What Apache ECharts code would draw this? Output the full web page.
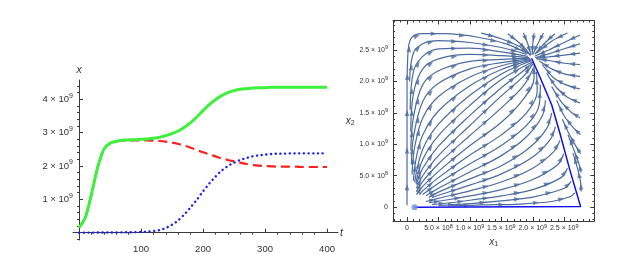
<!DOCTYPE html>
<html><head><meta charset="utf-8">
<script src="https://cdn.jsdelivr.net/npm/echarts@6/dist/echarts.min.js"></script>
<style>html,body{margin:0;padding:0;background:#fff}#c{width:644px;height:254px}</style>
</head><body><div id="c"></div>
<script>
// ---------- Left panel: populations over time (units of 1e9) ----------
const timePoints = [0,10,20,30,40,50,60,70,80,90,100,110,120,130,140,150,160,170,180,190,200,210,220,230,240,250,260,270,280,290,300,310,320,330,340,350,360,370,380,390,400];
const totalPop = [0.15,0.45,1.15,1.95,2.50,2.68,2.74,2.77,2.78,2.79,2.80,2.81,2.83,2.86,2.91,2.97,3.05,3.16,3.30,3.47,3.66,3.84,3.99,4.11,4.20,4.26,4.30,4.32,4.34,4.35,4.35,4.36,4.36,4.36,4.36,4.36,4.36,4.36,4.36,4.36,4.36];
const strain1Pop = [0.15,0.45,1.15,1.95,2.50,2.68,2.74,2.76,2.77,2.77,2.77,2.77,2.76,2.75,2.73,2.70,2.66,2.61,2.55,2.48,2.41,2.35,2.29,2.23,2.18,2.14,2.10,2.06,2.03,2.01,2.00,1.99,1.98,1.98,1.98,1.98,1.97,1.97,1.97,1.97,1.97];
const strain2Pop = [0,0.001,0.002,0.003,0.004,0.005,0.007,0.009,0.012,0.016,0.02,0.03,0.05,0.08,0.14,0.24,0.37,0.55,0.76,0.99,1.24,1.47,1.68,1.86,2.00,2.10,2.18,2.24,2.29,2.32,2.34,2.36,2.37,2.37,2.38,2.38,2.38,2.38,2.38,2.38,2.38];
const timeTicks = [100,200,300,400];
const popTicks = [1,2,3,4];
const popTickMantissa = ['1','2','3','4'];

// ---------- Right panel: phase plane (units of 1e9) ----------
const phaseTicks = [0,0.5,1.0,1.5,2.0,2.5];
const phaseTickMantissa = ['0','5.0','1.0','1.5','2.0','2.5'];
const phaseTickExponent = ['','8','9','9','9','9'];
const trajectoryX1 = [0.12,2.76,2.59,2.43,2.30,2.11,1.98];
const trajectoryX2 = [0,0.01,0.59,1.18,1.63,2.08,2.37];
const streamlines = [
  [[0,0.03],[0,0.6],[0,1.2],[0,1.8],[0.01,2.35],[0.06,2.68],[0.25,2.76],[0.6,2.76],[1.15,2.70],[1.6,2.59],[1.92,2.44]],
  [[0.04,2.0],[0.1,2.45],[0.25,2.6],[0.5,2.65],[1.0,2.62],[1.5,2.54],[1.9,2.43]],
  [[0.05,1.55],[0.1,2.15],[0.25,2.4],[0.5,2.52],[1.0,2.53],[1.5,2.47],[1.92,2.40]],
  [[0.06,1.2],[0.1,1.8],[0.25,2.2],[0.5,2.36],[1.0,2.43],[1.5,2.41],[1.94,2.38]],
  [[0.06,0.9],[0.1,1.42],[0.25,1.95],[0.5,2.17],[1.0,2.32],[1.5,2.35],[1.95,2.37]],
  [[0.07,0.68],[0.1,1.1],[0.25,1.68],[0.5,1.97],[1.0,2.2],[1.5,2.3],[1.96,2.36]],
  [[0.08,0.52],[0.12,0.95],[0.25,1.42],[0.5,1.76],[1.0,2.07],[1.5,2.25],[1.97,2.35]],
  [[0.1,0.42],[0.15,0.8],[0.25,1.15],[0.5,1.53],[1.0,1.93],[1.5,2.19],[1.97,2.34]],
  [[0.12,0.4],[0.25,0.92],[0.5,1.32],[1.0,1.78],[1.5,2.12],[1.98,2.33]],
  [[0.14,0.38],[0.25,0.76],[0.5,1.14],[1.0,1.62],[1.5,2.03],[1.99,2.31]],
  [[0.15,0.36],[0.25,0.62],[0.5,0.97],[1.0,1.46],[1.5,1.9],[1.85,2.17],[2.0,2.3]],
  [[0.15,0.3],[0.25,0.5],[0.5,0.82],[1.0,1.3],[1.5,1.77],[1.85,2.08],[2.0,2.28]],
  [[0.15,0.25],[0.25,0.41],[0.5,0.69],[1.0,1.14],[1.5,1.58],[1.85,1.93],[2.01,2.22]],
  [[0.15,0.2],[0.25,0.33],[0.5,0.57],[1.0,0.98],[1.5,1.35],[1.85,1.72],[2.02,2.05],[2.02,2.28]],
  [[0.2,0.2],[0.25,0.26],[0.5,0.47],[1.0,0.83],[1.5,1.15],[1.9,1.5],[2.07,1.85],[2.06,2.15]],
  [[0.25,0.2],[0.5,0.38],[1.0,0.69],[1.5,0.98],[1.9,1.3],[2.1,1.62],[2.12,1.95]],
  [[0.3,0.18],[0.5,0.3],[1.0,0.56],[1.5,0.82],[1.9,1.12],[2.15,1.45],[2.2,1.7]],
  [[0.35,0.16],[0.5,0.24],[1.0,0.45],[1.5,0.66],[1.95,0.95],[2.22,1.25],[2.3,1.5]],
  [[0.4,0.15],[0.5,0.19],[1.0,0.35],[1.5,0.53],[2.0,0.8],[2.28,1.08],[2.36,1.28]],
  [[0.3,0.09],[0.5,0.14],[1.0,0.26],[1.5,0.4],[2.0,0.62],[2.33,0.88],[2.43,1.06]],
  [[0.35,0.07],[0.6,0.11],[1.0,0.18],[1.5,0.28],[2.0,0.44],[2.4,0.68],[2.49,0.85]],
  [[0.4,0.045],[0.7,0.07],[1.0,0.11],[1.5,0.18],[2.0,0.28],[2.45,0.47],[2.55,0.62]],
  [[0.5,0.03],[0.9,0.05],[1.5,0.1],[2.0,0.16],[2.5,0.3],[2.61,0.41]],
  [[0.7,0.02],[1.2,0.035],[1.8,0.05],[2.3,0.09],[2.6,0.17],[2.67,0.23]],
  [[2.75,2.74],[2.5,2.62],[2.25,2.5],[2.03,2.4]],
  [[2.75,2.6],[2.5,2.52],[2.25,2.44],[2.04,2.38]],
  [[2.75,2.45],[2.5,2.42],[2.25,2.39],[2.05,2.37]],
  [[2.75,2.27],[2.5,2.29],[2.28,2.33],[2.06,2.36]],
  [[2.75,2.08],[2.5,2.12],[2.3,2.2],[2.1,2.33]],
  [[2.75,1.88],[2.52,1.95],[2.33,2.06],[2.15,2.27]],
  [[2.75,1.66],[2.55,1.75],[2.38,1.9],[2.22,2.13]],
  [[2.75,1.42],[2.6,1.52],[2.45,1.68],[2.3,1.92]],
  [[2.76,1.15],[2.64,1.27],[2.5,1.45],[2.38,1.7]],
  [[2.76,0.85],[2.68,0.98],[2.57,1.18],[2.47,1.4]],
  [[2.77,0.55],[2.73,0.7],[2.65,0.92],[2.56,1.15]],
  [[2.77,0.25],[2.76,0.4],[2.71,0.62],[2.64,0.86]],
  [[1.18,2.77],[1.5,2.68],[1.78,2.56],[1.95,2.43]],
  [[1.6,2.76],[1.78,2.62],[1.9,2.5],[1.96,2.41]],
  [[1.85,2.77],[1.92,2.6],[1.97,2.42]],
  [[2.02,2.77],[2.0,2.6],[1.99,2.43]],
  [[2.17,2.77],[2.08,2.6],[2.0,2.43]],
  [[2.35,2.76],[2.18,2.6],[2.03,2.43]],
  [[2.55,2.77],[2.3,2.64],[2.06,2.45]]
];

// ---------- styles ----------
const FONT = 'Liberation Sans';
const AX = '#3a3a3a';
const TXT = '#333';
const STREAM = '#4d6b9e';

function range(a, b, step, skip) {
  const out = [];
  for (let v = a; v <= b + 1e-9; v += step) {
    const r = Math.round(v * 1000) / 1000;
    if (!skip || !skip.some(s => Math.abs(s - r) < 1e-6)) out.push(r);
  }
  return out;
}
const timeMinor = range(20, 400, 20, timeTicks);
const popMinor = range(-0.2, 4.4, 0.2, popTicks.concat([0]));
const phaseMinor = range(-0.2, 2.9, 0.1, phaseTicks);

const leftRich = {
  m: {fontSize: 9.5, color: TXT, fontFamily: FONT, lineHeight: 14},
  e: {fontSize: 7, color: TXT, fontFamily: FONT, lineHeight: 7, verticalAlign: 'top'}
};
const rightRich = {
  m: {fontSize: 7, color: TXT, fontFamily: FONT, lineHeight: 11},
  e: {fontSize: 5.5, color: TXT, fontFamily: FONT, lineHeight: 5, verticalAlign: 'top'}
};
const nameRich = {
  i: {fontSize: 10, fontStyle: 'italic', color: TXT, fontFamily: FONT, lineHeight: 12},
  s: {fontSize: 7, color: TXT, fontFamily: FONT, lineHeight: 7, verticalAlign: 'bottom'}
};

function idxOf(arr, v) { return arr.findIndex(a => Math.abs(a - v) < 1e-6); }

function base(o) {
  return Object.assign({
    type: 'value', splitLine: {show: false},
    axisLabel: {show: false}, axisTick: {show: false}, axisLine: {show: false}
  }, o);
}

const leftX = {gridIndex: 0, min: -9.7, max: 417.7};
const leftY = {gridIndex: 0, min: -0.22, max: 4.58};
const rightX = {gridIndex: 1, min: -0.223, max: 2.978};
const rightY = {gridIndex: 1, min: -0.22, max: 2.97};

const xAxes = [
  base(Object.assign({}, leftX, {
    axisLine: {show: true, onZero: true, onZeroAxisIndex: 0, lineStyle: {color: AX, width: 1}},
    axisTick: {show: true, inside: true, length: 4, customValues: timeTicks, lineStyle: {color: AX}},
    axisLabel: {show: true, customValues: timeTicks, margin: 4, fontSize: 9.5, color: TXT, fontFamily: FONT},
    name: 't', nameLocation: 'end', nameGap: 2,
    nameTextStyle: {fontStyle: 'italic', fontSize: 10.5, color: TXT, fontFamily: FONT}
  })),
  base(Object.assign({}, leftX, {
    axisLine: {show: false, onZero: true, onZeroAxisIndex: 0},
    axisTick: {show: true, inside: true, length: 2, customValues: timeMinor, lineStyle: {color: AX}}
  })),
  base(Object.assign({}, rightX, {
    position: 'bottom',
    axisLine: {show: true, onZero: false, lineStyle: {color: AX}},
    axisTick: {show: true, inside: true, length: 4, customValues: phaseTicks, lineStyle: {color: AX}},
    axisLabel: {show: true, customValues: phaseTicks, margin: 2, rich: rightRich,
      formatter: v => { const i = idxOf(phaseTicks, v); const e = phaseTickExponent[i];
        return e ? `{m|${phaseTickMantissa[i]} × 10}{e|${e}}` : `{m|${phaseTickMantissa[i]}}`; }},
    name: '{i|x}{s|1}', nameLocation: 'middle', nameGap: 15, nameTextStyle: {rich: nameRich}
  })),
  base(Object.assign({}, rightX, {
    position: 'bottom', axisLine: {show: false, onZero: false},
    axisTick: {show: true, inside: true, length: 2, customValues: phaseMinor, lineStyle: {color: AX}}
  })),
  base(Object.assign({}, rightX, {
    position: 'top', axisLine: {show: true, onZero: false, lineStyle: {color: AX}},
    axisTick: {show: true, inside: true, length: 4, customValues: phaseTicks, lineStyle: {color: AX}}
  })),
  base(Object.assign({}, rightX, {
    position: 'top', axisLine: {show: false, onZero: false},
    axisTick: {show: true, inside: true, length: 2, customValues: phaseMinor, lineStyle: {color: AX}}
  }))
];

const yAxes = [
  base(Object.assign({}, leftY, {
    axisLine: {show: true, onZero: true, onZeroAxisIndex: 0, lineStyle: {color: AX, width: 1}},
    axisTick: {show: true, inside: true, length: 4, customValues: popTicks, lineStyle: {color: AX}},
    axisLabel: {show: true, customValues: popTicks, margin: 0, rich: leftRich,
      formatter: v => { const i = idxOf(popTicks, v); return `{m|${popTickMantissa[i]} × 10}{e|9}`; }},
    name: 'x', nameLocation: 'end', nameGap: 4,
    nameTextStyle: {fontStyle: 'italic', fontSize: 10.5, color: TXT, fontFamily: FONT}
  })),
  base(Object.assign({}, leftY, {
    axisLine: {show: false, onZero: true, onZeroAxisIndex: 0},
    axisTick: {show: true, inside: true, length: 2, customValues: popMinor, lineStyle: {color: AX}}
  })),
  base(Object.assign({}, rightY, {
    position: 'left', axisLine: {show: true, onZero: false, lineStyle: {color: AX}},
    axisTick: {show: true, inside: true, length: 4, customValues: phaseTicks, lineStyle: {color: AX}},
    axisLabel: {show: true, customValues: phaseTicks, margin: 5, rich: rightRich,
      formatter: v => { const i = idxOf(phaseTicks, v); const e = phaseTickExponent[i];
        return e ? `{m|${phaseTickMantissa[i]} × 10}{e|${e}}` : `{m|${phaseTickMantissa[i]}}`; }},
    name: '{i|x}{s|2}', nameLocation: 'middle', nameRotate: 0, nameGap: 37, nameTextStyle: {rich: nameRich}
  })),
  base(Object.assign({}, rightY, {
    position: 'left', axisLine: {show: false, onZero: false},
    axisTick: {show: true, inside: true, length: 2, customValues: phaseMinor, lineStyle: {color: AX}}
  })),
  base(Object.assign({}, rightY, {
    position: 'right', axisLine: {show: true, onZero: false, lineStyle: {color: AX}},
    axisTick: {show: true, inside: true, length: 4, customValues: phaseTicks, lineStyle: {color: AX}}
  })),
  base(Object.assign({}, rightY, {
    position: 'right', axisLine: {show: false, onZero: false},
    axisTick: {show: true, inside: true, length: 2, customValues: phaseMinor, lineStyle: {color: AX}}
  }))
];

const series = [
  {type: 'line', xAxisIndex: 0, yAxisIndex: 0, showSymbol: false, smooth: 0.3, silent: true,
   data: timePoints.map((t, i) => [t, strain1Pop[i]]),
   lineStyle: {color: '#ff1f1f', width: 2.2, type: [9, 5]}},
  {type: 'line', xAxisIndex: 0, yAxisIndex: 0, showSymbol: false, smooth: 0.3, silent: true,
   data: timePoints.map((t, i) => [t, strain2Pop[i]]),
   lineStyle: {color: '#1a1aff', width: 2.4, type: [0.1, 4.6], cap: 'round'}},
  {type: 'line', xAxisIndex: 0, yAxisIndex: 0, showSymbol: false, smooth: 0.3, silent: true,
   data: timePoints.map((t, i) => [t, totalPop[i]]),
   lineStyle: {color: '#3cf03c', width: 3}}
];

streamlines.forEach(line => {
  series.push({type: 'line', xAxisIndex: 2, yAxisIndex: 2, showSymbol: false, smooth: 0.35, silent: true,
    data: line, lineStyle: {color: STREAM, width: 1.2}});
});

const arrows = [];
streamlines.forEach(line => {
  for (let k = 0; k < line.length - 1; k++) {
    const a = line[k], b = line[k + 1];
    const dx = b[0] - a[0], dy = b[1] - a[1];
    if (Math.hypot(dx, dy) < 0.12) continue;
    arrows.push({value: [(a[0] + b[0]) / 2, (a[1] + b[1]) / 2],
      symbolRotate: Math.atan2(dy, dx) * 180 / Math.PI});
  }
});
series.push({type: 'scatter', xAxisIndex: 2, yAxisIndex: 2, silent: true,
  symbol: 'path://M0,0L10,4L0,8Z', symbolSize: [6, 4.6],
  itemStyle: {color: STREAM}, data: arrows, z: 3});

series.push({type: 'line', xAxisIndex: 2, yAxisIndex: 2, showSymbol: false, smooth: false, silent: true,
  data: trajectoryX1.map((x, i) => [x, trajectoryX2[i]]),
  lineStyle: {color: '#1010ee', width: 1.5}, z: 4});
series.push({type: 'scatter', xAxisIndex: 2, yAxisIndex: 2, silent: true,
  symbol: 'circle', symbolSize: 6, itemStyle: {color: '#6e8fd6'},
  data: [[trajectoryX1[0], trajectoryX2[0]]], z: 5});

const chart = echarts.init(document.getElementById('c'));
chart.setOption({
  animation: false,
  backgroundColor: '#fff',
  textStyle: {fontFamily: FONT},
  grid: [
    {left: 73, top: 80, width: 265, height: 160},
    {left: 393, top: 20.5, width: 201.3, height: 200.5}
  ],
  xAxis: xAxes,
  yAxis: yAxes,
  series: series
});
</script>
</body></html>
